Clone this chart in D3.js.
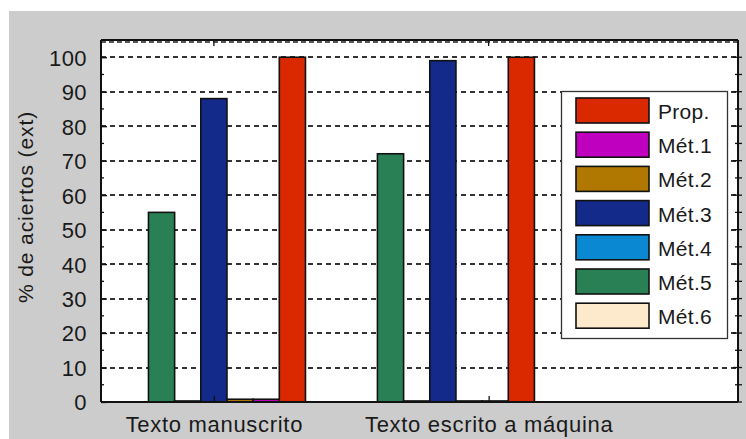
<!DOCTYPE html>
<html>
<head>
<meta charset="utf-8">
<script src="https://cdn.jsdelivr.net/npm/d3@7"></script>
<style>
  html, body { margin: 0; padding: 0; background: #ffffff; }
  svg { display: block; }
  text { font-family: "Liberation Sans", Arial, Helvetica, sans-serif; fill: #1a1a1a; }
</style>
</head>
<body>
<svg id="chart" width="746" height="439"></svg>
<script>
// ---- data ----
const categories = ["Texto manuscrito", "Texto escrito a máquina"];
const categoryTickValues = [1, 2.2];
const seriesNames = ["Prop.", "Mét.1", "Mét.2", "Mét.3", "Mét.4", "Mét.5", "Mét.6"];
const seriesColors = ["#da2800", "#bf00bf", "#b07800", "#142a8a", "#0a88d2", "#2a8055", "#fde9cc"];
const propValues = [100, 100];
const met1Values = [0.8, 0.3];
const met2Values = [0.8, 0.3];
const met3Values = [88, 99];
const met4Values = [0.3, 0.3];
const met5Values = [55, 72];
const met6Values = [0, 0];
const yTickValues = [0, 10, 20, 30, 40, 50, 60, 70, 80, 90, 100];
const yMinorTickValues = [5, 15, 25, 35, 45, 55, 65, 75, 85, 95];

const seriesValues = [propValues, met1Values, met2Values, met3Values, met4Values, met5Values, met6Values];

// ---- layout ----
const svg = d3.select("#chart");
const plot = { left: 101, right: 738, top: 40, bottom: 402 };

// figure background
svg.append("rect").attr("x", 9).attr("y", 11).attr("width", 737).attr("height", 428).attr("fill", "#cccccc");
svg.append("rect").attr("x", plot.left).attr("y", plot.top)
  .attr("width", plot.right - plot.left).attr("height", plot.bottom - plot.top).attr("fill", "#ffffff");

const x = d3.scaleLinear().domain([0.507, 3.289]).range([plot.left, plot.right]);
const y = d3.scaleLinear().domain([0, 105]).range([plot.bottom, plot.top]);

// grid
svg.append("g").selectAll("line").data(yTickValues.filter(v => v > 0)).join("line")
  .attr("x1", plot.left).attr("x2", plot.right)
  .attr("y1", d => Math.round(y(d))).attr("y2", d => Math.round(y(d)))
  .attr("stroke", "#333").attr("stroke-width", 2).attr("stroke-dasharray", "5,4");
// top dashed line under border
svg.append("line").attr("x1", plot.left).attr("x2", plot.right)
  .attr("y1", plot.top + 2).attr("y2", plot.top + 2)
  .attr("stroke", "#222").attr("stroke-width", 1.5).attr("stroke-dasharray", "5,3");

// bars (drawn in reverse series order, MATLAB grouped style)
const nSeries = seriesNames.length;
const slot = 0.8 / nSeries;
const barData = [];
categories.forEach((c, ci) => {
  for (let k = 0; k < nSeries; k++) {
    const si = nSeries - 1 - k; // Mét.6 leftmost ... Prop. rightmost
    const center = (ci + 1) + (k - (nSeries - 1) / 2) * slot;
    barData.push({ center, value: seriesValues[si][ci], color: seriesColors[si] });
  }
});
svg.append("g").selectAll("rect").data(barData).join("rect")
  .attr("x", d => x(d.center - slot / 2))
  .attr("width", d => x(d.center + slot / 2) - x(d.center - slot / 2))
  .attr("y", d => y(d.value))
  .attr("height", d => y(0) - y(d.value))
  .attr("fill", d => d.color)
  .attr("stroke", "#111").attr("stroke-width", 1.6);

// axes frame
const frame = svg.append("g");
frame.append("line").attr("x1", plot.left).attr("x2", plot.right).attr("y1", plot.top).attr("y2", plot.top).attr("stroke", "#111").attr("stroke-width", 2);
frame.append("line").attr("x1", plot.left).attr("x2", plot.right).attr("y1", plot.bottom).attr("y2", plot.bottom).attr("stroke", "#111").attr("stroke-width", 2);
frame.append("line").attr("x1", plot.left).attr("x2", plot.left).attr("y1", plot.top).attr("y2", plot.bottom).attr("stroke", "#111").attr("stroke-width", 2);
frame.append("line").attr("x1", plot.right).attr("x2", plot.right).attr("y1", plot.top).attr("y2", plot.bottom).attr("stroke", "#111").attr("stroke-width", 2);

// y axis (left) with d3 axis
const yAxis = d3.axisLeft(y).tickValues(yTickValues).tickSize(-6).tickPadding(14).tickFormat(d3.format("d"));
const gy = svg.append("g").attr("transform", `translate(${plot.left},0)`).call(yAxis);
gy.select(".domain").remove();
gy.selectAll("line").attr("stroke", "#111").attr("stroke-width", 1.3);
gy.selectAll("text").attr("font-size", 22).attr("fill", "#1a1a1a").attr("dy", "0.36em")
  .style("font-family", "'Liberation Sans', Arial, sans-serif").attr("letter-spacing", 0.4);
// minor left ticks
svg.append("g").selectAll("line").data(yMinorTickValues).join("line")
  .attr("x1", plot.left).attr("x2", plot.left + 3)
  .attr("y1", d => y(d)).attr("y2", d => y(d)).attr("stroke", "#111").attr("stroke-width", 1.3);
// right ticks
svg.append("g").selectAll("line").data(yTickValues.concat(yMinorTickValues)).join("line")
  .attr("x1", d => plot.right - (yTickValues.includes(d) ? 5 : 3)).attr("x2", plot.right + 4)
  .attr("y1", d => y(d)).attr("y2", d => y(d)).attr("stroke", "#111").attr("stroke-width", 1.3);

// x axis categories
const xAxis = d3.axisBottom(x).tickValues(categoryTickValues).tickSize(-6).tickPadding(14)
  .tickFormat((d, i) => categories[i]);
const gx = svg.append("g").attr("transform", `translate(0,${plot.bottom})`).call(xAxis);
gx.select(".domain").remove();
gx.selectAll("line").attr("stroke", "#111").attr("stroke-width", 1.3);
gx.selectAll("text").attr("font-size", 22).attr("fill", "#1a1a1a")
  .style("font-family", "'Liberation Sans', Arial, sans-serif").attr("letter-spacing", 0.7);
// top ticks
svg.append("g").selectAll("line").data(categoryTickValues).join("line")
  .attr("x1", d => x(d)).attr("x2", d => x(d)).attr("y1", plot.top).attr("y2", plot.top + 6)
  .attr("stroke", "#111").attr("stroke-width", 1.3);

// y label
svg.append("text")
  .attr("transform", `translate(33,207) rotate(-90)`)
  .attr("text-anchor", "middle")
  .attr("font-size", 21).attr("letter-spacing", 0.9)
  .text("% de aciertos (ext)");

// legend
const lg = svg.append("g");
lg.append("rect").attr("x", 561.5).attr("y", 91.5).attr("width", 166).attr("height", 247)
  .attr("fill", "#ffffff").attr("stroke", "#333").attr("stroke-width", 1.3);
const rows = lg.selectAll("g.row").data(seriesNames).join("g").attr("class", "row")
  .attr("transform", (d, i) => `translate(0,${98 + i * 34.2})`);
rows.append("rect").attr("x", 576).attr("y", 0).attr("width", 73).attr("height", 25)
  .attr("fill", (d, i) => seriesColors[i]).attr("stroke", "#111").attr("stroke-width", 1.6);
rows.append("text").attr("x", 658).attr("y", 21).attr("font-size", 21).attr("letter-spacing", 0.3)
  .text(d => d);
</script>
</body>
</html>
